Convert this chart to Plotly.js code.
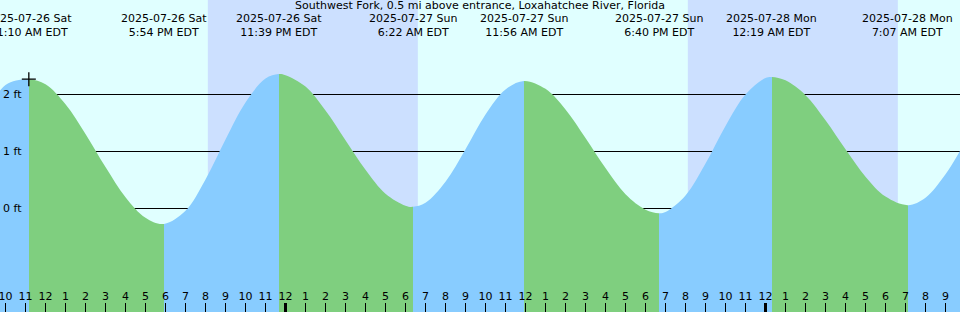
<!DOCTYPE html>
<html><head><meta charset="utf-8">
<script src="https://cdn.plot.ly/plotly-3.0.1.min.js"></script>
<style>html,body{margin:0;padding:0;background:#e0ffff}#chart{width:960px;height:312px}</style>
</head><body><div id="chart"></div>
<script>
const chartTitle = 'Southwest Fork, 0.5 mi above entrance, Loxahatchee River, Florida';

// High / low tide events (feet)
const eventTimes = ['2025-07-26 11:10','2025-07-26 17:54','2025-07-26 23:39','2025-07-27 06:22',
                    '2025-07-27 11:56','2025-07-27 18:40','2025-07-28 00:19','2025-07-28 07:07'];
const eventFeet  = [2.26, -0.28, 2.35, 0.02, 2.23, -0.09, 2.30, 0.05];
const eventKinds = ['H','L','H','L','H','L','H','L'];
const eventDates = ['2025-07-26 Sat','2025-07-26 Sat','2025-07-26 Sat','2025-07-27 Sun',
                    '2025-07-27 Sun','2025-07-27 Sun','2025-07-28 Mon','2025-07-28 Mon'];
const eventClock = ['11:10 AM EDT','5:54 PM EDT','11:39 PM EDT','6:22 AM EDT',
                    '11:56 AM EDT','6:40 PM EDT','12:19 AM EDT','7:07 AM EDT'];

// Hourly water level readings between the events (feet)
const levelTimes = [
  '2025-07-26 09:00','2025-07-26 10:00','2025-07-26 12:00','2025-07-26 13:00','2025-07-26 14:00',
  '2025-07-26 15:00','2025-07-26 16:00','2025-07-26 17:00','2025-07-26 19:00','2025-07-26 20:00',
  '2025-07-26 21:00','2025-07-26 22:00','2025-07-26 23:00','2025-07-27 00:00','2025-07-27 01:00',
  '2025-07-27 02:00','2025-07-27 03:00','2025-07-27 04:00','2025-07-27 05:00','2025-07-27 06:00',
  '2025-07-27 07:00','2025-07-27 08:00','2025-07-27 09:00','2025-07-27 10:00','2025-07-27 11:00',
  '2025-07-27 13:00','2025-07-27 14:00','2025-07-27 15:00','2025-07-27 16:00','2025-07-27 17:00',
  '2025-07-27 18:00','2025-07-27 19:00','2025-07-27 20:00','2025-07-27 21:00','2025-07-27 22:00',
  '2025-07-27 23:00','2025-07-28 00:00','2025-07-28 01:00','2025-07-28 02:00','2025-07-28 03:00',
  '2025-07-28 04:00','2025-07-28 05:00','2025-07-28 06:00','2025-07-28 08:00','2025-07-28 09:00',
  '2025-07-28 10:00'];
const levelFeet = [
  1.62, 2.16, 2.17, 1.82, 1.30,
  0.72, 0.19, -0.17, -0.05, 0.50,
  1.20, 1.85, 2.27, 2.33, 2.13,
  1.71, 1.19, 0.67, 0.25, 0.04,
  0.09, 0.46, 1.03, 1.64, 2.08,
  2.09, 1.73, 1.23, 0.70, 0.24,
  -0.03, -0.07, 0.22, 0.78, 1.44,
  1.99, 2.28, 2.24, 1.98, 1.54,
  1.03, 0.55, 0.20, 0.18, 0.59,
  1.17];

const nightStarts = ['2025-07-26 20:07','2025-07-27 20:07'];
const nightEnds   = ['2025-07-27 06:37','2025-07-28 06:37'];
const midnightTicks = ['2025-07-27 00:00','2025-07-28 00:00'];
const feetTicks = [0, 1, 2];
const feetLabels = ['0 ft','1 ft','2 ft'];

const xRange = ['2025-07-26 09:43:30','2025-07-28 09:43:30'];
const yRange = [-1.8246, 3.6491];

const dayColor = '#e0ffff', nightColor = '#cce0ff';
const risingColor = '#88ccff', fallingColor = '#7fcf7f';
const W = 960, H = 312;
const FONT = {family: 'DejaVu Sans', size: 11, color: '#000'};

// UTC-naive millisecond values, same convention as Plotly date axes
const toMs = s => {
  const [d, t] = s.split(' ');
  const [Y, M, D] = d.split('-').map(Number);
  const [h, m, sec] = t.split(':').map(Number);
  return Date.UTC(Y, M - 1, D, h, m, sec || 0);
};

// whole curve, chronological
const pts = [];
levelTimes.forEach((t, i) => pts.push({t, ms: toMs(t), y: levelFeet[i]}));
eventTimes.forEach((t, i) => pts.push({t, ms: toMs(t), y: eventFeet[i]}));
pts.sort((a, b) => a.ms - b.ms);
const curveX = pts.map(p => p.t), curveY = pts.map(p => p.y);

// each rising / falling period gets its own x-axis window (same scale), clipping the smooth curve
const ms0 = toMs(xRange[0]), ms1 = toMs(xRange[1]);
const pxOf = ms => Math.round((ms - ms0) / (ms1 - ms0) * W);
const msOf = px => ms0 + px / W * (ms1 - ms0);
const cuts = [0].concat(eventTimes.map(t => pxOf(toMs(t)))).concat([W]);

const layout = {
  width: W, height: H, margin: {l: 0, r: 0, t: 0, b: 0},
  paper_bgcolor: dayColor, plot_bgcolor: 'rgba(0,0,0,0)', showlegend: false,
  font: FONT,
  title: {text: chartTitle, x: 0.5, xanchor: 'center', y: 1, yanchor: 'top', pad: {t: 1}, font: FONT},
  xaxis: {type: 'date', range: xRange, domain: [0, 1], anchor: 'y', visible: false, fixedrange: true},
  yaxis: {range: yRange, domain: [0, 1], anchor: 'x', tickmode: 'array', tickvals: feetTicks,
          showticklabels: false, ticks: '', showgrid: true, gridcolor: '#000', gridwidth: 1,
          zeroline: false, showline: false, fixedrange: true},
  shapes: nightStarts.map((s, i) => ({type: 'rect', xref: 'x', yref: 'paper', x0: s, x1: nightEnds[i],
          y0: 0, y1: 1, fillcolor: nightColor, line: {width: 0}, layer: 'below'})),
  annotations: eventTimes.map((t, i) => ({x: t, xref: 'x', y: 1, yref: 'paper', yanchor: 'top',
          yshift: -10, showarrow: false, text: eventDates[i] + '<br>' + eventClock[i], font: FONT}))
};

const traces = [{x: [xRange[0]], y: [yRange[0]], xaxis: 'x', yaxis: 'y', mode: 'markers',
                 marker: {opacity: 0}, hoverinfo: 'skip'}];

for (let k = 0; k < cuts.length - 1; k++) {
  const ax = 'x' + (k + 2);
  layout['xaxis' + (k + 2)] = {type: 'date', domain: [cuts[k] / W, cuts[k + 1] / W],
    range: [msOf(cuts[k]), msOf(cuts[k + 1])], anchor: 'y', visible: false, fixedrange: true};
  const rising = k < eventKinds.length ? eventKinds[k] === 'H' : eventKinds[k - 1] === 'L';
  const col = rising ? risingColor : fallingColor;
  traces.push({x: curveX, y: curveX.map(() => yRange[0]), xaxis: ax, yaxis: 'y', mode: 'lines',
               line: {width: 0}, hoverinfo: 'skip'});
  traces.push({x: curveX, y: curveY, xaxis: ax, yaxis: 'y', mode: 'lines',
               line: {width: 0, shape: 'spline', color: col}, fill: 'tonexty', fillcolor: col,
               hoverinfo: 'skip'});
}

// top-most subplot: hour ticks, feet labels, marker
layout.xaxis11 = {type: 'date', range: xRange, domain: [0, 1], anchor: 'y2', showgrid: false,
  zeroline: false, showline: false, ticks: 'inside', ticklen: 9, tickwidth: 1, tickcolor: '#000',
  tick0: '2025-07-26 00:00', dtick: 3600000, tickformat: '%-I', ticklabelposition: 'inside',
  ticklabeloverflow: 'allow', tickfont: FONT, fixedrange: true};
layout.xaxis12 = {type: 'date', range: xRange, overlaying: 'x11', anchor: 'y2', tickmode: 'array',
  tickvals: midnightTicks, ticks: 'inside', ticklen: 9, tickwidth: 3, tickcolor: '#000',
  showticklabels: false, showgrid: false, zeroline: false, showline: false, fixedrange: true};
layout.yaxis2 = {range: yRange, domain: [0, 1], anchor: 'x11', tickmode: 'array', tickvals: feetTicks,
  ticktext: feetLabels, ticks: '', showgrid: false, zeroline: false, showline: false,
  ticklabelposition: 'inside', ticklabeloverflow: 'allow', tickfont: FONT, fixedrange: true};

traces.push({x: [eventTimes[0]], y: [eventFeet[0]], xaxis: 'x11', yaxis: 'y2', mode: 'markers',
             marker: {symbol: 'cross-thin-open', size: 10, line: {width: 1.3, color: '#000'}, color: '#000'},
             hoverinfo: 'skip'});
traces.push({x: [xRange[0]], y: [yRange[0]], xaxis: 'x12', yaxis: 'y2', mode: 'markers',
             marker: {opacity: 0}, hoverinfo: 'skip'});
traces.forEach(t => t.showlegend = false);

Plotly.newPlot('chart', traces, layout, {staticPlot: true});
</script></body></html>
